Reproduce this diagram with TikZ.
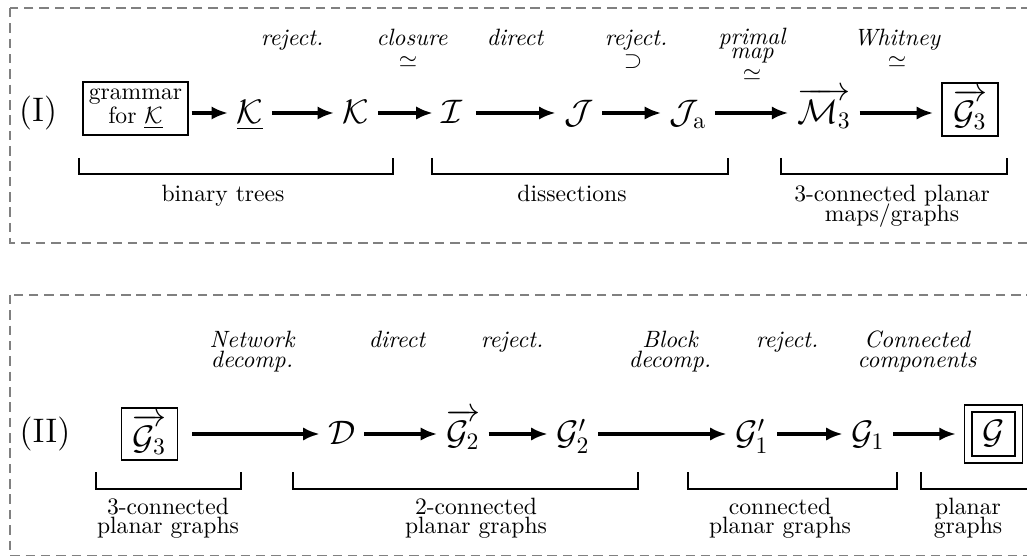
\documentclass[tikz,border=0pt]{standalone}
\usepackage{amsmath,amssymb}
\usetikzlibrary{arrows.meta}
\tikzset{
    flow/.style={-{Latex[length=7pt,width=5.6pt]}, line width=1.4pt},
    setname/.style={font=\Large, inner ysep=0pt, inner xsep=3.5pt,
      text height=12pt, text depth=3pt},
    classbox/.style={rectangle, draw, line width=0.5pt, inner sep=0pt, font=\Large},
    opname/.style={font=\itshape, align=center, anchor=base, inner sep=0pt},
    relname/.style={inner sep=0pt},
    family/.style={align=center, anchor=base, inner sep=0pt},
    bracket/.style={line width=0.9pt},
    frame/.style={draw=gray, dash pattern=on 4pt off 2.5pt, line width=0.5pt},
}

\begin{document}
\begin{tikzpicture}[x=0.4236pt, y=-0.4236pt]
\useasboundingbox (0,0) rectangle (1027,557);
% frames
\draw[frame] (10,8) rectangle (1045,243);
\draw[frame] (10,295) rectangle (1045,555.5);

% (I) binary trees -> dissections -> 3-connected maps
% (multi-line labels sit on the baseline of their last line)
\node[font=\Large] (rowI) at (38,113) {(I)};
\node[classbox, font=\normalsize, align=center, minimum width=44.5pt,
    minimum height=22.5pt] (gram) at (135.5,108.5) {grammar\\[-1.5pt] for $\underline{\mathcal{K}}$};
\node[setname] (kbar) at (250,113) {$\underline{\mathcal{K}}$};
\node[setname] (kset) at (356,113) {$\mathcal{K}$};
\node[setname] (iset) at (452,113) {$\mathcal{I}$};
\node[setname] (jset) at (579,113) {$\mathcal{J}$};
\node[setname] (jaset) at (688,113) {$\mathcal{J}_{\mathrm{a}}$};
\node[setname] (mset) at (824,113) {$\overrightarrow{\mathcal{M}_3}$};
\node[classbox, minimum width=23.7pt, minimum height=22.5pt] (gthree) at (970,109.5) {$\overrightarrow{\mathcal{G}_3}$};

\draw[flow, shorten <=1.3pt] (gram.east |- kbar) -- (kbar);
\draw[flow] (kbar) -- (kset);
\draw[flow] (kset) -- (iset);
\draw[flow, shorten <=2pt] (iset) -- (jset);
\draw[flow] (jset) -- (jaset);
\draw[flow] (jaset) -- (mset);
\draw[flow, shorten >=3.5pt] (mset) -- (gthree.west |- mset);

\node[opname] (rejA) at (292,46) {reject.};
\node[opname] (closA) at (412,46) {closure};
\node[relname] (simA) at (408,62) {$\simeq$};
\node[opname] (dirA) at (515,46) {direct};
\node[opname] (rejB) at (636,46) {reject.};
\node[relname] (supB) at (633,62) {$\supset$};
\node[opname] (primA) at (752,59) {primal\\[-6pt] map};
\node[relname] (simB) at (752,75) {$\simeq$};
\node[opname] (whitA) at (897,46) {Whitney};
\node[relname] (simC) at (897,62) {$\simeq$};

\draw[bracket] (79,158) |- (393,174) -- (393,158);
\draw[bracket] (432,158) |- (728,174) -- (728,158);
\draw[bracket] (781,158) |- (1007,174) -- (1007,158);
\node[family] (famA) at (223,202) {binary trees};
\node[family] (famB) at (572,202) {dissections};
\node[family] (famC) at (892,222) {3-connected planar\\[-3.5pt] maps/graphs};

% (II) 3-connected -> 2-connected -> connected -> planar graphs
\node[font=\Large] (rowII) at (45,434) {(II)};
\node[classbox, minimum width=23.7pt, minimum height=22pt] (gthreeb) at (149.5,434) {$\overrightarrow{\mathcal{G}_3}$};
\node[setname] (dset) at (342,434) {$\mathcal{D}$};
\node[setname] (gtwo) at (463,434) {$\overrightarrow{\mathcal{G}_2}$};
\node[setname] (gtwop) at (573,434) {$\mathcal{G}_2'$};
\node[setname] (gonep) at (752,434) {$\mathcal{G}_1'$};
\node[setname] (gone) at (868,434) {$\mathcal{G}_1$};
\node[classbox, line width=0.9pt, minimum size=18.4pt] (gall) at (993.5,434) {$\mathcal{G}$};
\draw[line width=0.5pt] ([shift={(-2.6pt,2.6pt)}]gall.north west) rectangle ([shift={(2.6pt,-2.6pt)}]gall.south east);

\draw[flow, shorten <=6pt] (gthreeb) -- (dset);
\draw[flow] (dset) -- (gtwo);
\draw[flow] (gtwo) -- (gtwop);
\draw[flow] (gtwop) -- (gonep);
\draw[flow] (gonep) -- (gone);
\draw[flow, shorten >=6.3pt] (gone) -- (gall);

\node[opname] (netA) at (252,368) {Network\\[-3.5pt] decomp.};
\node[opname] (dirB) at (397,348) {direct};
\node[opname] (rejC) at (512,348) {reject.};
\node[opname] (blockA) at (670,368) {Block\\[-3.5pt] decomp.};
\node[opname] (rejD) at (787,348) {reject.};
\node[opname] (compA) at (917,368) {Connected\\[-3.5pt] components};

\draw[bracket] (96,472) |- (241,489) -- (241,472);
\draw[bracket] (293,472) |- (638,489) -- (638,472);
\draw[bracket] (688,472) |- (897,489) -- (897,472);
\draw[bracket] (921,472) |- (1045,489);
\node[family] (famD) at (168,533) {3-connected\\[-4pt] planar graphs};
\node[family] (famE) at (476,533) {2-connected\\[-4pt] planar graphs};
\node[family] (famF) at (780,533) {connected\\[-4pt] planar graphs};
\node[family] (famG) at (968,533) {planar\\[-4pt] graphs};
\end{tikzpicture}
\end{document}
